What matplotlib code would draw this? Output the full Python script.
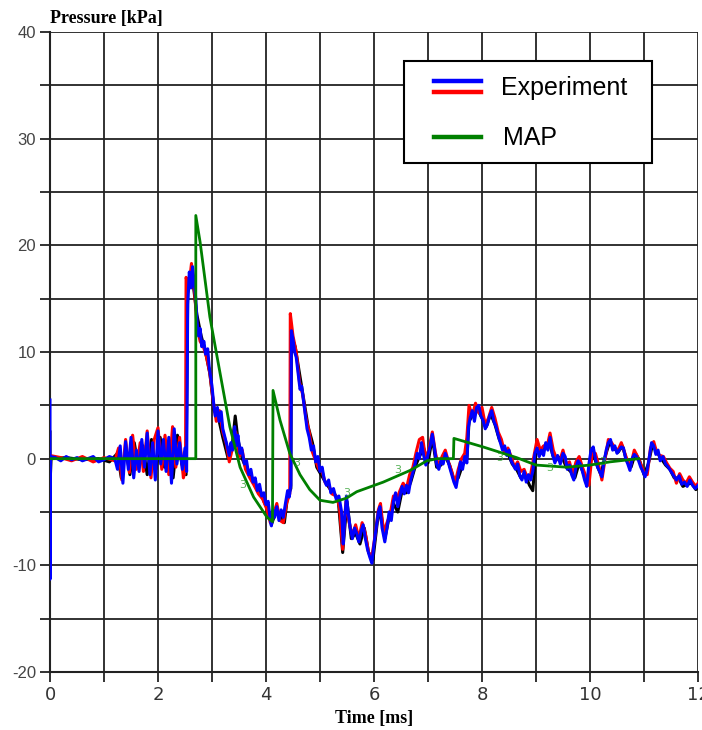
import matplotlib
matplotlib.use("Agg")
from matplotlib import pyplot as plt
from matplotlib.lines import Line2D
from matplotlib.patches import Rectangle

# ---- data (time in ms, pressure in kPa) ----
t_blue = [0.0, 0.0, 0.01, 0.1, 0.2, 0.3, 0.4, 0.5, 0.6, 0.7, 0.8, 0.9, 1.0, 1.1, 1.2,
          1.25, 1.3, 1.35, 1.4, 1.45, 1.5, 1.55, 1.6, 1.65, 1.7, 1.75, 1.8, 1.85, 1.9, 1.95,
          2.0, 2.05, 2.1, 2.15, 2.2, 2.25, 2.3, 2.35, 2.4, 2.45, 2.5, 2.53,
          2.55, 2.58, 2.61, 2.64, 2.67, 2.7, 2.72, 2.75, 2.78, 2.81, 2.85, 2.88, 2.92, 2.95,
          3.0, 3.03, 3.06, 3.1, 3.13, 3.17, 3.2, 3.24, 3.28, 3.32, 3.35, 3.38, 3.42, 3.45,
          3.48, 3.52, 3.55, 3.6, 3.64, 3.68, 3.72, 3.76, 3.8, 3.84, 3.88, 3.92, 3.96, 4.0,
          4.04, 4.08, 4.1, 4.13, 4.16, 4.2, 4.24, 4.28, 4.32, 4.36, 4.4, 4.43, 4.46,
          4.47, 4.5, 4.53, 4.56, 4.6, 4.63, 4.66, 4.7, 4.73, 4.76, 4.8, 4.84, 4.88, 4.92,
          4.96, 5.0, 5.04, 5.08, 5.12, 5.16, 5.2, 5.25, 5.3, 5.35, 5.4, 5.43, 5.46, 5.49,
          5.52, 5.56, 5.6, 5.64, 5.68, 5.72, 5.76, 5.8, 5.84, 5.88, 5.92, 5.96, 6.0, 6.04,
          6.08, 6.11, 6.15, 6.2, 6.24, 6.28, 6.32, 6.36, 6.4, 6.44, 6.48, 6.52, 6.56, 6.6,
          6.64, 6.68, 6.72, 6.76, 6.8, 6.84, 6.88, 6.92, 6.96, 7.0, 7.04, 7.08, 7.12, 7.16,
          7.2, 7.24, 7.28, 7.32, 7.36, 7.4, 7.44, 7.48, 7.52, 7.56, 7.6, 7.64, 7.68, 7.72,
          7.75, 7.78, 7.82, 7.86, 7.9, 7.94, 7.98, 8.02, 8.06, 8.1, 8.14, 8.18, 8.22, 8.26,
          8.3, 8.34, 8.38, 8.42, 8.46, 8.5, 8.54, 8.58, 8.62, 8.66, 8.7, 8.74, 8.78, 8.82,
          8.86, 8.9, 8.94, 8.98, 9.02, 9.06, 9.1, 9.14, 9.18, 9.22, 9.26, 9.3, 9.35, 9.4,
          9.45, 9.5, 9.54, 9.58, 9.62, 9.66, 9.7, 9.74, 9.78, 9.82, 9.86, 9.9, 9.94, 9.98,
          10.02, 10.06, 10.1, 10.14, 10.18, 10.22, 10.26, 10.3, 10.34, 10.38, 10.42, 10.46,
          10.5, 10.54, 10.58, 10.62, 10.66, 10.7, 10.74, 10.78, 10.82, 10.86, 10.9, 10.94,
          10.98, 11.02, 11.06, 11.1, 11.14, 11.18, 11.22, 11.26, 11.3, 11.35, 11.4, 11.45,
          11.5, 11.55, 11.6, 11.65, 11.7, 11.75, 11.8, 11.85, 11.9, 11.95, 12.0]
p_blue = [5.5, -11.3, 0.2, 0.1, -0.2, 0.2, -0.1, 0.1, -0.2, 0.0, 0.2, -0.3, -0.1, 0.2, 0.0,
          -1.0, 1.2, -2.3, 1.6, -1.0, 2.0, -1.8, 0.8, -1.2, 1.8, -0.8, 2.4, -1.5, 1.5, -2.0,
          2.6, -0.5, 1.8, -1.2, 2.0, -2.3, 2.8, -0.5, 1.5, -1.0, 1.0, -1.2,
          14.5, 17.5, 16.0, 18.0, 16.5, 15.0, 13.0, 11.5, 12.2, 10.5, 11.0, 9.8, 10.3, 8.5,
          6.8, 5.2, 4.0, 4.8, 3.5, 4.4, 2.8, 2.0, 1.2, 0.3, 1.5, 0.8, 3.0, 1.2,
          2.2, 0.5, 1.0, -0.5, -0.2, -1.5, -1.0, -2.2, -1.8, -3.0, -2.4, -3.5, -3.2, -4.3,
          -4.0, -5.8, -6.3, -4.8, -5.5, -4.5, -5.8, -4.8, -5.5, -4.2, -3.0, -3.6, -2.5,
          12.0, 11.2, 10.0, 9.5, 7.8, 6.5, 6.8, 5.2, 4.0, 2.8, 2.0, 0.8, 1.2, -0.3,
          0.2, -1.2, -0.8, -2.0, -2.5, -2.0, -3.2, -2.8, -3.8, -3.5, -5.0, -8.0, -5.5, -3.5,
          -5.0, -6.5, -7.5, -6.5, -7.0, -7.8, -6.8, -6.2, -7.5, -8.5, -9.2, -9.8, -8.0, -6.5,
          -5.0, -4.5, -6.5, -7.8, -6.5, -5.0, -5.8, -4.0, -3.2, -4.5, -3.5, -2.6, -3.3, -2.5,
          -3.2, -2.0, -1.3, -0.5, 0.5, 0.0, 1.5, 0.3, -0.6, 0.4, 1.2, 2.3, 1.0, -0.5,
          -1.0, -0.2, -0.5, 0.5, 0.0, -0.8, -1.5, -2.2, -2.7, -1.5, -0.3, -1.0, 0.2, -0.4,
          3.0, 3.8, 4.5, 3.5, 4.8, 5.0, 4.0, 3.6, 2.8, 3.2, 4.0, 4.5, 3.5, 3.0,
          2.2, 1.5, 0.8, 1.2, 0.3, 0.8, -0.2, -0.6, -1.0, -0.5, -1.6, -2.0, -1.2, -2.2,
          -1.5, -2.0, -1.2, 0.5, 1.0, 0.2, 0.8, 0.3, 1.5, 0.8, 2.0, 0.5, -0.4, 0.3,
          -0.5, 0.5, 0.2, -1.0, -0.6, -1.5, -2.0, -0.8, -0.2, -0.5, -1.2, -2.0, -2.6, -0.5,
          0.8, 1.1, 0.0, -0.8, -1.2, -1.7, -0.3, 0.8, 1.5, 1.8, 0.8, 1.2,
          0.5, 0.8, 1.1, 1.0, 0.0, -0.5, -1.1, 0.0, 0.4, 0.2, -0.2, -0.8,
          -1.2, -1.7, -1.0, 0.2, 1.5, 1.2, 0.4, 0.8, -0.2, 0.2, -0.5, -0.8,
          -1.2, -1.6, -2.0, -1.6, -2.4, -2.2, -2.6, -2.0, -2.5, -2.8, -2.5]

t_red = [0.0, 0.0, 0.2, 0.4, 0.6, 0.8, 1.0, 1.2, 1.27, 1.33, 1.4, 1.47, 1.53, 1.6, 1.67,
         1.73, 1.8, 1.87, 1.93, 2.0, 2.07, 2.13, 2.2, 2.27, 2.33, 2.4, 2.47, 2.51, 2.52,
         2.57, 2.62, 2.68, 2.72, 2.78, 2.84, 2.9, 2.96, 3.02, 3.08, 3.14, 3.2, 3.26, 3.32,
         3.38, 3.44, 3.5, 3.56, 3.62, 3.7, 3.78, 3.86, 3.94, 4.02, 4.08, 4.14, 4.2, 4.26,
         4.32, 4.38, 4.44, 4.45, 4.5, 4.56, 4.62, 4.68, 4.74, 4.8, 4.86, 4.92, 4.98, 5.04,
         5.1, 5.16, 5.22, 5.3, 5.36, 5.42, 5.48, 5.54, 5.6, 5.66, 5.72, 5.78, 5.84, 5.9,
         5.96, 6.02, 6.08, 6.12, 6.18, 6.24, 6.3, 6.36, 6.42, 6.48, 6.54, 6.6, 6.66, 6.72,
         6.78, 6.84, 6.9, 6.96, 7.02, 7.08, 7.14, 7.2, 7.26, 7.32, 7.38, 7.44, 7.5, 7.56,
         7.62, 7.68, 7.72, 7.76, 7.82, 7.88, 7.94, 8.0, 8.06, 8.12, 8.18, 8.24, 8.3, 8.36,
         8.42, 8.48, 8.54, 8.6, 8.66, 8.72, 8.78, 8.84, 8.9, 8.96, 9.02, 9.08, 9.14, 9.2,
         9.26, 9.32, 9.38, 9.44, 9.5, 9.56, 9.62, 9.68, 9.74, 9.8, 9.86, 9.92, 9.98, 10.04,
         10.1, 10.16, 10.22, 10.28, 10.34, 10.4, 10.46, 10.52, 10.58, 10.64, 10.7, 10.76,
         10.82, 10.88, 10.94, 11.0, 11.06, 11.12, 11.18, 11.24, 11.3, 11.36, 11.42, 11.48,
         11.54, 11.6, 11.66, 11.72, 11.78, 11.84, 11.9, 11.96, 12.0]
p_red = [-11.0, 0.3, 0.1, -0.2, 0.2, -0.3, 0.1, -0.2, 1.0, -2.0, 1.8, -1.3, 2.2, -1.0, 1.5,
         -1.2, 2.6, -1.8, 1.8, 2.9, -1.0, 2.2, -1.5, 3.0, -0.8, 2.0, -1.8, -1.0, 17.0,
         16.0, 18.3, 15.5, 12.5, 11.0, 10.5, 9.5, 8.0, 5.5, 3.5, 4.5, 2.5, 1.5, -0.3,
         1.0, 2.5, 0.2, 0.8, -1.0, -1.8, -2.5, -3.3, -3.8, -4.8, -6.0, -5.2, -4.2, -5.8,
         -6.0, -4.2, -3.3, 13.6, 11.5, 10.0, 7.2, 6.0, 3.8, 2.5, 0.6, -0.2, -1.0, -1.2,
         -2.3, -2.4, -3.3, -3.5, -4.5, -8.5, -4.0, -6.0, -7.2, -6.2, -7.5, -6.0, -7.0, -8.8,
         -9.2, -7.2, -4.8, -4.2, -7.0, -6.0, -5.2, -3.5, -3.8, -3.0, -2.3, -2.8, -1.5, -0.8,
         0.6, 1.8, 2.0, -0.2, 1.0, 2.5, 0.5, -0.8, 0.2, 0.8, -0.3, -1.2, -2.3, -1.0,
         0.0, 0.5, 2.0, 5.0, 4.0, 5.2, 4.3, 4.8, 3.2, 3.8, 4.8, 3.8, 2.5, 1.8,
         0.5, 1.0, 0.2, -0.8, -0.3, -1.2, -1.0, -1.8, -1.5, 0.2, 1.8, 0.8, 1.2, 1.0,
         2.4, 0.8, 0.0, -0.2, 0.8, -0.5, -0.3, -1.5, -0.3, 0.2, -0.8, -1.6, -2.5, 0.5,
         0.5, -0.6, -2.0, 0.0, 1.8, 1.5, 1.0, 0.8, 1.5, 0.6, -0.3, -0.5,
         0.8, 0.2, -0.5, -1.3, -1.5, 1.0, 1.6, 0.5, 0.3, 0.2, -0.4, -0.9,
         -1.2, -2.3, -1.4, -2.0, -2.3, -1.7, -2.2, -2.6, -2.3]

t_black = [0.0, 0.0, 0.02, 0.3, 0.6, 0.9, 1.1, 1.25, 1.32, 1.4, 1.48, 1.56, 1.64, 1.72,
           1.8, 1.88, 1.96, 2.04, 2.12, 2.2, 2.28, 2.36, 2.44, 2.52, 2.55, 2.6, 2.66, 2.72,
           2.8, 2.88, 2.96, 3.04, 3.12, 3.2, 3.3, 3.38, 3.43, 3.48, 3.56, 3.64, 3.72, 3.8,
           3.88, 3.96, 4.04, 4.1, 4.18, 4.26, 4.34, 4.4, 4.46, 4.47, 4.54, 4.62, 4.7, 4.78,
           4.86, 4.94, 5.02, 5.1, 5.18, 5.26, 5.34, 5.42, 5.5, 5.58, 5.66, 5.74, 5.82, 5.9,
           5.98, 6.06, 6.12, 6.2, 6.28, 6.36, 6.44, 6.52, 6.6, 6.68, 6.76, 6.84, 6.92, 7.0,
           7.08, 7.16, 7.24, 7.32, 7.4, 7.48, 7.56, 7.64, 7.72, 7.76, 7.84, 7.92, 8.0, 8.08,
           8.16, 8.24, 8.32, 8.4, 8.48, 8.56, 8.64, 8.72, 8.8, 8.88, 8.94, 9.0, 9.08, 9.16,
           9.24, 9.32, 9.4, 9.48, 9.56, 9.64, 9.72, 9.8, 9.88, 9.96, 10.04, 10.12, 10.2,
           10.28, 10.36, 10.44, 10.52, 10.6, 10.68, 10.76, 10.84, 10.92, 11.0, 11.08, 11.16,
           11.24, 11.32, 11.4, 11.48, 11.56, 11.64, 11.72, 11.8, 11.88, 11.96, 12.0]
p_black = [2.5, -2.5, 0.0, 0.1, -0.1, 0.0, -0.3, 0.5, -1.8, 1.0, -1.5, 1.5, -0.8, 1.2,
           -1.5, 1.8, -1.0, 2.0, -0.8, 1.5, -1.8, 2.2, -0.5, -1.5, 15.5, 17.0, 16.0, 13.5,
           11.5, 10.0, 8.0, 4.5, 3.8, 2.0, 0.0, 1.5, 4.0, 1.8, 0.0, -1.0, -1.5, -2.6,
           -2.8, -4.0, -4.8, -6.2, -5.0, -5.2, -6.0, -3.5, -2.8, 11.5, 10.5, 8.0, 5.5, 3.0,
           1.5, -0.8, -1.5, -2.2, -2.8, -3.2, -4.0, -8.8, -4.0, -7.5, -7.0, -8.0, -6.5, -8.8,
           -9.5, -6.0, -4.8, -7.5, -5.5, -4.2, -5.0, -3.0, -3.2, -2.2, -0.8, 0.2, 1.0, -0.4,
           2.0, -0.8, -0.6, 0.2, -0.6, -2.0, -1.8, -0.6, 0.0, 3.5, 4.2, 4.6, 3.8, 3.0,
           4.2, 3.2, 1.8, 1.0, 0.5, -0.5, -1.0, -1.8, -1.5, -2.5, -3.0, 0.6, 0.5, 1.2,
           1.6, 0.2, 0.0, 0.2, -0.8, -1.2, -1.8, -0.4, -1.4, -2.2, 0.8, -0.5, -1.5,
           0.2, 1.5, 1.0, 0.6, 1.2, -0.2, -0.8, 0.5, -0.2, -1.5, -0.5, 1.4,
           0.6, 0.0, -0.6, -1.0, -1.8, -1.8, -2.6, -2.4, -2.3, -2.9, -2.6]

t_map = [0.0, 2.70, 2.70, 2.78, 2.96, 3.15, 3.33, 3.52, 3.77, 4.02, 4.12, 4.13, 4.26,
         4.44, 4.63, 4.81, 5.0, 5.24, 5.49, 5.68, 6.17, 6.67, 6.98, 7.17, 7.47, 7.48,
         8.02, 8.33, 8.64, 9.0, 9.57, 10.0, 10.37, 10.9]
p_map = [0.0, 0.0, 22.8, 20.3, 13.3, 8.0, 3.0, -0.8, -3.6, -5.5, -5.9, 6.4, 3.6,
         0.5, -1.5, -2.9, -3.9, -4.1, -3.7, -3.1, -2.2, -1.1, -0.2, 0.0, 0.0, 1.9,
         1.1, 0.6, 0.1, -0.6, -0.8, -0.6, -0.3, 0.0]

# little "3" labels sitting on the MAP curve
t_marks = [3.57, 4.57, 5.5, 6.44, 8.33, 9.26, 10.24]
p_marks = [-2.5, -0.4, -3.2, -1.1, 0.1, -0.9, -0.3]

x_ticks = list(range(0, 13))
x_labels = [str(v) if v % 2 == 0 else '' for v in x_ticks]
y_ticks = list(range(-20, 45, 5))
y_labels = [str(v) if v % 10 == 0 else '' for v in y_ticks]

W, H = 702, 730
fig = plt.figure(figsize=(W / 100, H / 100), dpi=100)
ax = fig.add_axes([50 / W, 1 - 672 / H, 648 / W, 640 / H])

grid_col = '#222222'
ax.set_xlim(0, 12)
ax.set_ylim(-20, 40)
ax.set_xticks(x_ticks)
ax.set_xticklabels(x_labels, family=['Liberation Sans Narrow', 'DejaVu Sans'], fontsize=13,
                   color='#333333')
ax.set_yticks(y_ticks)
ax.set_yticklabels(y_labels, family='Liberation Sans', fontsize=12, color='#444444')
ax.tick_params(direction='out', length=7, width=1.3, color=grid_col, pad=3)
ax.grid(True, color=grid_col, lw=1.3)
ax.set_axisbelow(True)
for side in ['top', 'right']:
    ax.spines[side].set_visible(False)
for side in ['left', 'bottom']:
    ax.spines[side].set_color(grid_col)
    ax.spines[side].set_linewidth(1.5)

ax.plot(t_black, p_black, color='black', lw=2.2, zorder=3)
ax.plot(t_red, p_red, color='#ff0000', lw=2.2, zorder=4)
ax.plot(t_blue, p_blue, color='#0000ff', lw=2.2, zorder=5)
ax.plot(t_map, p_map, color='#008000', lw=2.0, zorder=6)
for tm, pm in zip(t_marks, p_marks):
    ax.text(tm, pm, '3', color='#2e9e2e', fontsize=8, alpha=0.8,
            ha='center', va='center', zorder=6)

# axis titles
fig.text(50 / W, 1 - 23 / H, 'Pressure [kPa]', family='Liberation Serif', weight='bold',
         fontsize=13, ha='left', va='baseline')
fig.text(374 / W, 1 - 718 / H, 'Time [ms]', family='Liberation Serif', weight='bold',
         fontsize=13, ha='center', va='center')

# legend drawn by hand (two stacked lines for Experiment)
fig.patches.append(Rectangle((404 / W, 1 - 163 / H), 248 / W, 102 / H, transform=fig.transFigure,
                             facecolor='white', edgecolor='black', lw=1.5, zorder=10))
for yy, col in [(81, '#0000ff'), (92, '#ff0000'), (137, '#008000')]:
    fig.add_artist(Line2D([434 / W, 481 / W], [1 - yy / H, 1 - yy / H], color=col, lw=3.2,
                          transform=fig.transFigure, zorder=11))
fig.text(501 / W, 1 - 88 / H, 'Experiment', family='Liberation Sans', fontsize=18,
         ha='left', va='center', zorder=12)
fig.text(503 / W, 1 - 138 / H, 'MAP', family='Liberation Sans', fontsize=18,
         ha='left', va='center', zorder=12)

fig.savefig('out.png', dpi=100)
